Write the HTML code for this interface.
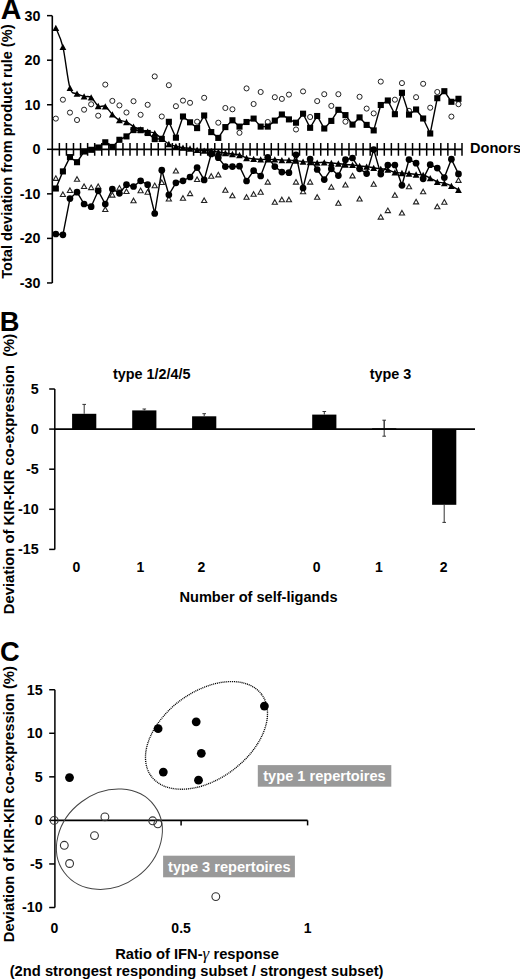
<!DOCTYPE html>
<html><head><meta charset="utf-8"><title>Figure</title>
<style>
html,body{margin:0;padding:0;background:#fff;}
body{width:520px;height:980px;overflow:hidden;}
svg{display:block;}
</style></head>
<body>
<svg width="520" height="980" viewBox="0 0 520 980">
<rect width="520" height="980" fill="#fff"/>
<text x="0.7" y="18.9" font-size="28.6" font-family="Liberation Sans, sans-serif" font-weight="bold">A</text>
<line x1="52.3" y1="15.65" x2="52.3" y2="282.95" stroke="#000" stroke-width="1.6"/>
<line x1="47" y1="282.95" x2="52.3" y2="282.95" stroke="#000" stroke-width="1.5"/>
<text x="40.4" y="287.95" font-size="14.3" text-anchor="end" font-family="Liberation Sans, sans-serif" font-weight="bold">-30</text>
<line x1="47" y1="238.40" x2="52.3" y2="238.40" stroke="#000" stroke-width="1.5"/>
<text x="40.4" y="243.40" font-size="14.3" text-anchor="end" font-family="Liberation Sans, sans-serif" font-weight="bold">-20</text>
<line x1="47" y1="193.85" x2="52.3" y2="193.85" stroke="#000" stroke-width="1.5"/>
<text x="40.4" y="198.85" font-size="14.3" text-anchor="end" font-family="Liberation Sans, sans-serif" font-weight="bold">-10</text>
<line x1="47" y1="149.30" x2="52.3" y2="149.30" stroke="#000" stroke-width="1.5"/>
<text x="40.4" y="154.30" font-size="14.3" text-anchor="end" font-family="Liberation Sans, sans-serif" font-weight="bold">0</text>
<line x1="47" y1="104.75" x2="52.3" y2="104.75" stroke="#000" stroke-width="1.5"/>
<text x="40.4" y="109.75" font-size="14.3" text-anchor="end" font-family="Liberation Sans, sans-serif" font-weight="bold">10</text>
<line x1="47" y1="60.20" x2="52.3" y2="60.20" stroke="#000" stroke-width="1.5"/>
<text x="40.4" y="65.20" font-size="14.3" text-anchor="end" font-family="Liberation Sans, sans-serif" font-weight="bold">20</text>
<line x1="47" y1="15.65" x2="52.3" y2="15.65" stroke="#000" stroke-width="1.5"/>
<text x="40.4" y="20.65" font-size="14.3" text-anchor="end" font-family="Liberation Sans, sans-serif" font-weight="bold">30</text>
<line x1="52.3" y1="149.3" x2="462.0" y2="149.3" stroke="#000" stroke-width="1.8"/>
<path d="M59.36 143V155.8 M66.43 143V155.8 M73.49 143V155.8 M80.56 143V155.8 M87.62 143V155.8 M94.68 143V155.8 M101.75 143V155.8 M108.81 143V155.8 M115.87 143V155.8 M122.94 143V155.8 M130.00 143V155.8 M137.07 143V155.8 M144.13 143V155.8 M151.19 143V155.8 M158.26 143V155.8 M165.32 143V155.8 M172.38 143V155.8 M179.45 143V155.8 M186.51 143V155.8 M193.58 143V155.8 M200.64 143V155.8 M207.70 143V155.8 M214.77 143V155.8 M221.83 143V155.8 M228.89 143V155.8 M235.96 143V155.8 M243.02 143V155.8 M250.09 143V155.8 M257.15 143V155.8 M264.21 143V155.8 M271.28 143V155.8 M278.34 143V155.8 M285.41 143V155.8 M292.47 143V155.8 M299.53 143V155.8 M306.60 143V155.8 M313.66 143V155.8 M320.72 143V155.8 M327.79 143V155.8 M334.85 143V155.8 M341.92 143V155.8 M348.98 143V155.8 M356.04 143V155.8 M363.11 143V155.8 M370.17 143V155.8 M377.23 143V155.8 M384.30 143V155.8 M391.36 143V155.8 M398.43 143V155.8 M405.49 143V155.8 M412.55 143V155.8 M419.62 143V155.8 M426.68 143V155.8 M433.74 143V155.8 M440.81 143V155.8 M447.87 143V155.8 M454.94 143V155.8 M462.00 143V155.8" stroke="#000" stroke-width="1.5"/>
<text x="470" y="153.3" font-size="14.6" font-family="Liberation Sans, sans-serif" font-weight="bold">Donors</text>
<text transform="translate(12.1 151.6) rotate(-90)" font-size="14.6" text-anchor="middle" font-family="Liberation Sans, sans-serif" font-weight="bold">Total deviation from product rule (%)</text>
<circle cx="55.83" cy="118.6" r="2.55" fill="#fff" stroke="#222" stroke-width="1"/>
<circle cx="62.90" cy="99.7" r="2.55" fill="#fff" stroke="#222" stroke-width="1"/>
<circle cx="69.96" cy="112.6" r="2.55" fill="#fff" stroke="#222" stroke-width="1"/>
<circle cx="77.02" cy="120" r="2.55" fill="#fff" stroke="#222" stroke-width="1"/>
<circle cx="84.09" cy="109.7" r="2.55" fill="#fff" stroke="#222" stroke-width="1"/>
<circle cx="91.15" cy="104.3" r="2.55" fill="#fff" stroke="#222" stroke-width="1"/>
<circle cx="98.21" cy="115.7" r="2.55" fill="#fff" stroke="#222" stroke-width="1"/>
<circle cx="105.28" cy="84.6" r="2.55" fill="#fff" stroke="#222" stroke-width="1"/>
<circle cx="112.34" cy="100.9" r="2.55" fill="#fff" stroke="#222" stroke-width="1"/>
<circle cx="119.41" cy="105.4" r="2.55" fill="#fff" stroke="#222" stroke-width="1"/>
<circle cx="126.47" cy="112.5" r="2.55" fill="#fff" stroke="#222" stroke-width="1"/>
<circle cx="133.53" cy="101.2" r="2.55" fill="#fff" stroke="#222" stroke-width="1"/>
<circle cx="140.60" cy="114.8" r="2.55" fill="#fff" stroke="#222" stroke-width="1"/>
<circle cx="147.66" cy="104.8" r="2.55" fill="#fff" stroke="#222" stroke-width="1"/>
<circle cx="154.72" cy="76.4" r="2.55" fill="#fff" stroke="#222" stroke-width="1"/>
<circle cx="161.79" cy="116.5" r="2.55" fill="#fff" stroke="#222" stroke-width="1"/>
<circle cx="168.85" cy="85.2" r="2.55" fill="#fff" stroke="#222" stroke-width="1"/>
<circle cx="175.92" cy="106.2" r="2.55" fill="#fff" stroke="#222" stroke-width="1"/>
<circle cx="182.98" cy="100.6" r="2.55" fill="#fff" stroke="#222" stroke-width="1"/>
<circle cx="190.04" cy="102.8" r="2.55" fill="#fff" stroke="#222" stroke-width="1"/>
<circle cx="197.11" cy="121.7" r="2.55" fill="#fff" stroke="#222" stroke-width="1"/>
<circle cx="204.17" cy="97.8" r="2.55" fill="#fff" stroke="#222" stroke-width="1"/>
<circle cx="218.30" cy="122.7" r="2.55" fill="#fff" stroke="#222" stroke-width="1"/>
<circle cx="225.36" cy="108" r="2.55" fill="#fff" stroke="#222" stroke-width="1"/>
<circle cx="232.43" cy="109.3" r="2.55" fill="#fff" stroke="#222" stroke-width="1"/>
<circle cx="239.49" cy="132.8" r="2.55" fill="#fff" stroke="#222" stroke-width="1"/>
<circle cx="246.55" cy="88.4" r="2.55" fill="#fff" stroke="#222" stroke-width="1"/>
<circle cx="253.62" cy="104" r="2.55" fill="#fff" stroke="#222" stroke-width="1"/>
<circle cx="260.68" cy="92" r="2.55" fill="#fff" stroke="#222" stroke-width="1"/>
<circle cx="267.75" cy="122" r="2.55" fill="#fff" stroke="#222" stroke-width="1"/>
<circle cx="274.81" cy="97.2" r="2.55" fill="#fff" stroke="#222" stroke-width="1"/>
<circle cx="281.87" cy="98.9" r="2.55" fill="#fff" stroke="#222" stroke-width="1"/>
<circle cx="288.94" cy="94.6" r="2.55" fill="#fff" stroke="#222" stroke-width="1"/>
<circle cx="296.00" cy="129.5" r="2.55" fill="#fff" stroke="#222" stroke-width="1"/>
<circle cx="303.06" cy="91.4" r="2.55" fill="#fff" stroke="#222" stroke-width="1"/>
<circle cx="310.13" cy="117" r="2.55" fill="#fff" stroke="#222" stroke-width="1"/>
<circle cx="317.19" cy="101.1" r="2.55" fill="#fff" stroke="#222" stroke-width="1"/>
<circle cx="324.26" cy="94.2" r="2.55" fill="#fff" stroke="#222" stroke-width="1"/>
<circle cx="331.32" cy="105.9" r="2.55" fill="#fff" stroke="#222" stroke-width="1"/>
<circle cx="338.38" cy="94.2" r="2.55" fill="#fff" stroke="#222" stroke-width="1"/>
<circle cx="345.45" cy="121.7" r="2.55" fill="#fff" stroke="#222" stroke-width="1"/>
<circle cx="359.57" cy="96.8" r="2.55" fill="#fff" stroke="#222" stroke-width="1"/>
<circle cx="366.64" cy="108.6" r="2.55" fill="#fff" stroke="#222" stroke-width="1"/>
<circle cx="373.70" cy="113.4" r="2.55" fill="#fff" stroke="#222" stroke-width="1"/>
<circle cx="380.77" cy="81.6" r="2.55" fill="#fff" stroke="#222" stroke-width="1"/>
<circle cx="394.89" cy="99.7" r="2.55" fill="#fff" stroke="#222" stroke-width="1"/>
<circle cx="401.96" cy="83.1" r="2.55" fill="#fff" stroke="#222" stroke-width="1"/>
<circle cx="409.02" cy="110.8" r="2.55" fill="#fff" stroke="#222" stroke-width="1"/>
<circle cx="416.09" cy="97.2" r="2.55" fill="#fff" stroke="#222" stroke-width="1"/>
<circle cx="423.15" cy="83.8" r="2.55" fill="#fff" stroke="#222" stroke-width="1"/>
<circle cx="430.21" cy="107.7" r="2.55" fill="#fff" stroke="#222" stroke-width="1"/>
<circle cx="437.28" cy="92" r="2.55" fill="#fff" stroke="#222" stroke-width="1"/>
<circle cx="451.40" cy="116.6" r="2.55" fill="#fff" stroke="#222" stroke-width="1"/>
<circle cx="458.47" cy="104.2" r="2.55" fill="#fff" stroke="#222" stroke-width="1"/>
<path d="M55.83 175.80L58.43 180.40L53.23 180.40Z" fill="#fff" stroke="#222" stroke-width="1.1"/>
<path d="M62.90 191.90L65.50 196.50L60.30 196.50Z" fill="#fff" stroke="#222" stroke-width="1.1"/>
<path d="M69.96 187.90L72.56 192.50L67.36 192.50Z" fill="#fff" stroke="#222" stroke-width="1.1"/>
<path d="M77.02 176.70L79.62 181.30L74.42 181.30Z" fill="#fff" stroke="#222" stroke-width="1.1"/>
<path d="M84.09 183.90L86.69 188.50L81.49 188.50Z" fill="#fff" stroke="#222" stroke-width="1.1"/>
<path d="M91.15 185.00L93.75 189.60L88.55 189.60Z" fill="#fff" stroke="#222" stroke-width="1.1"/>
<path d="M98.21 183.90L100.81 188.50L95.61 188.50Z" fill="#fff" stroke="#222" stroke-width="1.1"/>
<path d="M105.28 206.90L107.88 211.50L102.68 211.50Z" fill="#fff" stroke="#222" stroke-width="1.1"/>
<path d="M112.34 192.50L114.94 197.10L109.74 197.10Z" fill="#fff" stroke="#222" stroke-width="1.1"/>
<path d="M119.41 185.50L122.01 190.10L116.81 190.10Z" fill="#fff" stroke="#222" stroke-width="1.1"/>
<path d="M126.47 188.90L129.07 193.50L123.87 193.50Z" fill="#fff" stroke="#222" stroke-width="1.1"/>
<path d="M133.53 198.20L136.13 202.80L130.93 202.80Z" fill="#fff" stroke="#222" stroke-width="1.1"/>
<path d="M140.60 188.10L143.20 192.70L138.00 192.70Z" fill="#fff" stroke="#222" stroke-width="1.1"/>
<path d="M147.66 189.60L150.26 194.20L145.06 194.20Z" fill="#fff" stroke="#222" stroke-width="1.1"/>
<path d="M154.72 183.10L157.32 187.70L152.12 187.70Z" fill="#fff" stroke="#222" stroke-width="1.1"/>
<path d="M161.79 179.90L164.39 184.50L159.19 184.50Z" fill="#fff" stroke="#222" stroke-width="1.1"/>
<path d="M168.85 196.40L171.45 201.00L166.25 201.00Z" fill="#fff" stroke="#222" stroke-width="1.1"/>
<path d="M175.92 168.40L178.52 173.00L173.32 173.00Z" fill="#fff" stroke="#222" stroke-width="1.1"/>
<path d="M182.98 195.70L185.58 200.30L180.38 200.30Z" fill="#fff" stroke="#222" stroke-width="1.1"/>
<path d="M190.04 191.00L192.64 195.60L187.44 195.60Z" fill="#fff" stroke="#222" stroke-width="1.1"/>
<path d="M197.11 176.90L199.71 181.50L194.51 181.50Z" fill="#fff" stroke="#222" stroke-width="1.1"/>
<path d="M204.17 197.90L206.77 202.50L201.57 202.50Z" fill="#fff" stroke="#222" stroke-width="1.1"/>
<path d="M211.24 173.70L213.84 178.30L208.64 178.30Z" fill="#fff" stroke="#222" stroke-width="1.1"/>
<path d="M218.30 172.30L220.90 176.90L215.70 176.90Z" fill="#fff" stroke="#222" stroke-width="1.1"/>
<path d="M225.36 187.70L227.96 192.30L222.76 192.30Z" fill="#fff" stroke="#222" stroke-width="1.1"/>
<path d="M232.43 193.20L235.03 197.80L229.83 197.80Z" fill="#fff" stroke="#222" stroke-width="1.1"/>
<path d="M246.55 194.70L249.15 199.30L243.95 199.30Z" fill="#fff" stroke="#222" stroke-width="1.1"/>
<path d="M253.62 191.70L256.22 196.30L251.02 196.30Z" fill="#fff" stroke="#222" stroke-width="1.1"/>
<path d="M260.68 189.60L263.28 194.20L258.08 194.20Z" fill="#fff" stroke="#222" stroke-width="1.1"/>
<path d="M267.75 179.50L270.35 184.10L265.15 184.10Z" fill="#fff" stroke="#222" stroke-width="1.1"/>
<path d="M274.81 199.70L277.41 204.30L272.21 204.30Z" fill="#fff" stroke="#222" stroke-width="1.1"/>
<path d="M281.87 197.20L284.47 201.80L279.27 201.80Z" fill="#fff" stroke="#222" stroke-width="1.1"/>
<path d="M288.94 197.20L291.54 201.80L286.34 201.80Z" fill="#fff" stroke="#222" stroke-width="1.1"/>
<path d="M296.00 179.50L298.60 184.10L293.40 184.10Z" fill="#fff" stroke="#222" stroke-width="1.1"/>
<path d="M303.06 189.10L305.66 193.70L300.46 193.70Z" fill="#fff" stroke="#222" stroke-width="1.1"/>
<path d="M310.13 179.50L312.73 184.10L307.53 184.10Z" fill="#fff" stroke="#222" stroke-width="1.1"/>
<path d="M317.19 194.70L319.79 199.30L314.59 199.30Z" fill="#fff" stroke="#222" stroke-width="1.1"/>
<path d="M331.32 184.50L333.92 189.10L328.72 189.10Z" fill="#fff" stroke="#222" stroke-width="1.1"/>
<path d="M338.38 200.70L340.98 205.30L335.78 205.30Z" fill="#fff" stroke="#222" stroke-width="1.1"/>
<path d="M345.45 182.40L348.05 187.00L342.85 187.00Z" fill="#fff" stroke="#222" stroke-width="1.1"/>
<path d="M352.51 173.30L355.11 177.90L349.91 177.90Z" fill="#fff" stroke="#222" stroke-width="1.1"/>
<path d="M359.57 196.40L362.18 201.00L356.97 201.00Z" fill="#fff" stroke="#222" stroke-width="1.1"/>
<path d="M373.70 181.70L376.30 186.30L371.10 186.30Z" fill="#fff" stroke="#222" stroke-width="1.1"/>
<path d="M380.77 214.50L383.37 219.10L378.17 219.10Z" fill="#fff" stroke="#222" stroke-width="1.1"/>
<path d="M387.83 208.00L390.43 212.60L385.23 212.60Z" fill="#fff" stroke="#222" stroke-width="1.1"/>
<path d="M394.89 192.70L397.49 197.30L392.29 197.30Z" fill="#fff" stroke="#222" stroke-width="1.1"/>
<path d="M401.96 210.40L404.56 215.00L399.36 215.00Z" fill="#fff" stroke="#222" stroke-width="1.1"/>
<path d="M409.02 184.20L411.62 188.80L406.42 188.80Z" fill="#fff" stroke="#222" stroke-width="1.1"/>
<path d="M416.09 199.30L418.69 203.90L413.49 203.90Z" fill="#fff" stroke="#222" stroke-width="1.1"/>
<path d="M423.15 189.20L425.75 193.80L420.55 193.80Z" fill="#fff" stroke="#222" stroke-width="1.1"/>
<path d="M437.28 204.20L439.88 208.80L434.68 208.80Z" fill="#fff" stroke="#222" stroke-width="1.1"/>
<path d="M444.34 199.60L446.94 204.20L441.74 204.20Z" fill="#fff" stroke="#222" stroke-width="1.1"/>
<path d="M458.47 177.80L461.07 182.40L455.87 182.40Z" fill="#fff" stroke="#222" stroke-width="1.1"/>
<polyline points="55.83,234 62.90,234.8 69.96,198.6 77.02,192.2 84.09,204 91.15,206.7 98.21,190.8 105.28,204 112.34,189 119.41,193.3 126.47,184.7 133.53,186.5 140.60,180.8 147.66,184.7 154.72,213.5 161.79,170.2 168.85,194.8 175.92,182.8 182.98,180.8 190.04,177 197.11,167.6 204.17,179.9 211.24,153.9 218.30,157.7 225.36,166.6 232.43,166.6 239.49,166.2 246.55,181 253.62,170.7 260.68,176 267.75,157.3 274.81,166.6 281.87,172.1 288.94,172.7 296.00,154.8 303.06,188 310.13,159.1 317.19,169.5 324.26,179.6 331.32,168.8 338.38,175.6 345.45,159.7 352.51,158 359.57,168.8 366.64,173.6 373.70,149.6 380.77,174.1 387.83,165.1 394.89,165 401.96,185.3 409.02,159.6 416.09,163.2 423.15,178.8 430.21,164.7 437.28,168.1 444.34,177.6 451.40,159.2 458.47,173.9" fill="none" stroke="#000" stroke-width="1.4"/>
<polyline points="55.83,188.5 62.90,171.4 69.96,157.1 77.02,162.2 84.09,151.5 91.15,149.8 98.21,147.5 105.28,142.3 112.34,146.9 119.41,139.8 126.47,136.4 133.53,130.1 140.60,130.2 147.66,133 154.72,139.1 161.79,138.8 168.85,121.8 175.92,137.7 182.98,116.5 190.04,122.3 197.11,128.1 204.17,115.5 211.24,132.1 218.30,137.9 225.36,127.1 232.43,120.3 239.49,126.6 246.55,122 253.62,118.6 260.68,126.6 267.75,126.6 274.81,120.6 281.87,114.5 288.94,119.4 296.00,122.7 303.06,113.7 310.13,127.8 317.19,116 324.26,128.5 331.32,120.9 338.38,109.8 345.45,115.1 352.51,124.6 359.57,117.4 366.64,124.9 373.70,130.4 380.77,105 387.83,100.5 394.89,114.2 401.96,92.8 409.02,114.6 416.09,109.5 423.15,118.5 430.21,133.5 437.28,98.2 444.34,91.2 451.40,101.8 458.47,98.8" fill="none" stroke="#000" stroke-width="1.4"/>
<path d="M55.83 27.90C57.01 31.07 60.54 36.90 62.90 46.90C65.25 56.90 67.60 80.12 69.96 87.90C72.31 95.68 74.67 92.18 77.02 93.60C79.38 95.02 81.73 95.77 84.09 96.40C86.44 97.03 88.80 95.80 91.15 97.40C93.51 99.00 95.86 104.50 98.21 106.00C100.57 107.50 102.92 105.00 105.28 106.40C107.63 107.80 109.99 112.12 112.34 114.40C114.70 116.68 117.05 118.83 119.41 120.10C121.76 121.37 124.12 120.92 126.47 122.00C128.82 123.08 131.18 125.35 133.53 126.60C135.89 127.85 138.24 128.65 140.60 129.50C142.95 130.35 145.31 131.10 147.66 131.70C150.02 132.30 152.37 131.92 154.72 133.10C157.08 134.28 159.43 136.98 161.79 138.80C164.14 140.62 166.50 142.77 168.85 144.00C171.21 145.23 173.56 145.60 175.92 146.20C178.27 146.80 180.63 147.22 182.98 147.60C185.33 147.98 187.69 148.13 190.04 148.50C192.40 148.87 194.75 149.45 197.11 149.80C199.46 150.15 201.82 150.40 204.17 150.60C206.53 150.80 208.88 150.77 211.24 151.00C213.59 151.23 215.94 151.67 218.30 152.00C220.65 152.33 223.01 152.67 225.36 153.00C227.72 153.33 230.07 153.67 232.43 154.00C234.78 154.33 237.14 154.33 239.49 155.00C241.85 155.67 244.20 157.37 246.55 158.00C248.91 158.63 251.26 158.57 253.62 158.80C255.97 159.03 258.33 159.30 260.68 159.40C263.04 159.50 265.39 159.40 267.75 159.40C270.10 159.40 272.45 159.28 274.81 159.40C277.16 159.52 279.52 159.98 281.87 160.10C284.23 160.22 286.58 160.02 288.94 160.10C291.29 160.18 293.65 160.35 296.00 160.60C298.36 160.85 300.71 161.37 303.06 161.60C305.42 161.83 307.77 161.83 310.13 162.00C312.48 162.17 314.84 162.55 317.19 162.60C319.55 162.65 321.90 162.23 324.26 162.30C326.61 162.37 328.97 162.80 331.32 163.00C333.67 163.20 336.03 163.25 338.38 163.50C340.74 163.75 343.09 164.27 345.45 164.50C347.80 164.73 350.16 164.67 352.51 164.90C354.87 165.13 357.22 165.62 359.57 165.90C361.93 166.18 364.28 166.28 366.64 166.60C368.99 166.92 371.35 167.43 373.70 167.80C376.06 168.17 378.41 168.48 380.77 168.80C383.12 169.12 385.48 169.10 387.83 169.70C390.18 170.30 392.54 171.85 394.89 172.40C397.25 172.95 399.60 172.82 401.96 173.00C404.31 173.18 406.67 173.25 409.02 173.50C411.38 173.75 413.73 174.25 416.09 174.50C418.44 174.75 420.79 174.40 423.15 175.00C425.50 175.60 427.86 176.95 430.21 178.10C432.57 179.25 434.92 181.05 437.28 181.90C439.63 182.75 441.99 182.55 444.34 183.20C446.70 183.85 449.05 184.68 451.40 185.80C453.76 186.92 457.29 189.22 458.47 189.90" fill="none" stroke="#000" stroke-width="1.4"/>
<circle cx="55.83" cy="234" r="3.35" fill="#000"/>
<circle cx="62.90" cy="234.8" r="3.35" fill="#000"/>
<circle cx="69.96" cy="198.6" r="3.35" fill="#000"/>
<circle cx="77.02" cy="192.2" r="3.35" fill="#000"/>
<circle cx="84.09" cy="204" r="3.35" fill="#000"/>
<circle cx="91.15" cy="206.7" r="3.35" fill="#000"/>
<circle cx="98.21" cy="190.8" r="3.35" fill="#000"/>
<circle cx="105.28" cy="204" r="3.35" fill="#000"/>
<circle cx="112.34" cy="189" r="3.35" fill="#000"/>
<circle cx="119.41" cy="193.3" r="3.35" fill="#000"/>
<circle cx="126.47" cy="184.7" r="3.35" fill="#000"/>
<circle cx="133.53" cy="186.5" r="3.35" fill="#000"/>
<circle cx="140.60" cy="180.8" r="3.35" fill="#000"/>
<circle cx="147.66" cy="184.7" r="3.35" fill="#000"/>
<circle cx="154.72" cy="213.5" r="3.35" fill="#000"/>
<circle cx="161.79" cy="170.2" r="3.35" fill="#000"/>
<circle cx="168.85" cy="194.8" r="3.35" fill="#000"/>
<circle cx="175.92" cy="182.8" r="3.35" fill="#000"/>
<circle cx="182.98" cy="180.8" r="3.35" fill="#000"/>
<circle cx="190.04" cy="177" r="3.35" fill="#000"/>
<circle cx="197.11" cy="167.6" r="3.35" fill="#000"/>
<circle cx="204.17" cy="179.9" r="3.35" fill="#000"/>
<circle cx="211.24" cy="153.9" r="3.35" fill="#000"/>
<circle cx="218.30" cy="157.7" r="3.35" fill="#000"/>
<circle cx="225.36" cy="166.6" r="3.35" fill="#000"/>
<circle cx="232.43" cy="166.6" r="3.35" fill="#000"/>
<circle cx="239.49" cy="166.2" r="3.35" fill="#000"/>
<circle cx="246.55" cy="181" r="3.35" fill="#000"/>
<circle cx="253.62" cy="170.7" r="3.35" fill="#000"/>
<circle cx="260.68" cy="176" r="3.35" fill="#000"/>
<circle cx="267.75" cy="157.3" r="3.35" fill="#000"/>
<circle cx="274.81" cy="166.6" r="3.35" fill="#000"/>
<circle cx="281.87" cy="172.1" r="3.35" fill="#000"/>
<circle cx="288.94" cy="172.7" r="3.35" fill="#000"/>
<circle cx="296.00" cy="154.8" r="3.35" fill="#000"/>
<circle cx="303.06" cy="188" r="3.35" fill="#000"/>
<circle cx="310.13" cy="159.1" r="3.35" fill="#000"/>
<circle cx="317.19" cy="169.5" r="3.35" fill="#000"/>
<circle cx="324.26" cy="179.6" r="3.35" fill="#000"/>
<circle cx="331.32" cy="168.8" r="3.35" fill="#000"/>
<circle cx="338.38" cy="175.6" r="3.35" fill="#000"/>
<circle cx="345.45" cy="159.7" r="3.35" fill="#000"/>
<circle cx="352.51" cy="158" r="3.35" fill="#000"/>
<circle cx="359.57" cy="168.8" r="3.35" fill="#000"/>
<circle cx="366.64" cy="173.6" r="3.35" fill="#000"/>
<circle cx="373.70" cy="149.6" r="3.35" fill="#000"/>
<circle cx="380.77" cy="174.1" r="3.35" fill="#000"/>
<circle cx="387.83" cy="165.1" r="3.35" fill="#000"/>
<circle cx="394.89" cy="165" r="3.35" fill="#000"/>
<circle cx="401.96" cy="185.3" r="3.35" fill="#000"/>
<circle cx="409.02" cy="159.6" r="3.35" fill="#000"/>
<circle cx="416.09" cy="163.2" r="3.35" fill="#000"/>
<circle cx="423.15" cy="178.8" r="3.35" fill="#000"/>
<circle cx="430.21" cy="164.7" r="3.35" fill="#000"/>
<circle cx="437.28" cy="168.1" r="3.35" fill="#000"/>
<circle cx="444.34" cy="177.6" r="3.35" fill="#000"/>
<circle cx="451.40" cy="159.2" r="3.35" fill="#000"/>
<circle cx="458.47" cy="173.9" r="3.35" fill="#000"/>
<rect x="52.78" y="185.45" width="6.1" height="6.1" fill="#000"/>
<rect x="59.85" y="168.35" width="6.1" height="6.1" fill="#000"/>
<rect x="66.91" y="154.05" width="6.1" height="6.1" fill="#000"/>
<rect x="73.97" y="159.15" width="6.1" height="6.1" fill="#000"/>
<rect x="81.04" y="148.45" width="6.1" height="6.1" fill="#000"/>
<rect x="88.10" y="146.75" width="6.1" height="6.1" fill="#000"/>
<rect x="95.16" y="144.45" width="6.1" height="6.1" fill="#000"/>
<rect x="102.23" y="139.25" width="6.1" height="6.1" fill="#000"/>
<rect x="109.29" y="143.85" width="6.1" height="6.1" fill="#000"/>
<rect x="116.36" y="136.75" width="6.1" height="6.1" fill="#000"/>
<rect x="123.42" y="133.35" width="6.1" height="6.1" fill="#000"/>
<rect x="130.48" y="127.05" width="6.1" height="6.1" fill="#000"/>
<rect x="137.55" y="127.15" width="6.1" height="6.1" fill="#000"/>
<rect x="144.61" y="129.95" width="6.1" height="6.1" fill="#000"/>
<rect x="151.67" y="136.05" width="6.1" height="6.1" fill="#000"/>
<rect x="158.74" y="135.75" width="6.1" height="6.1" fill="#000"/>
<rect x="165.80" y="118.75" width="6.1" height="6.1" fill="#000"/>
<rect x="172.87" y="134.65" width="6.1" height="6.1" fill="#000"/>
<rect x="179.93" y="113.45" width="6.1" height="6.1" fill="#000"/>
<rect x="186.99" y="119.25" width="6.1" height="6.1" fill="#000"/>
<rect x="194.06" y="125.05" width="6.1" height="6.1" fill="#000"/>
<rect x="201.12" y="112.45" width="6.1" height="6.1" fill="#000"/>
<rect x="208.19" y="129.05" width="6.1" height="6.1" fill="#000"/>
<rect x="215.25" y="134.85" width="6.1" height="6.1" fill="#000"/>
<rect x="222.31" y="124.05" width="6.1" height="6.1" fill="#000"/>
<rect x="229.38" y="117.25" width="6.1" height="6.1" fill="#000"/>
<rect x="236.44" y="123.55" width="6.1" height="6.1" fill="#000"/>
<rect x="243.50" y="118.95" width="6.1" height="6.1" fill="#000"/>
<rect x="250.57" y="115.55" width="6.1" height="6.1" fill="#000"/>
<rect x="257.63" y="123.55" width="6.1" height="6.1" fill="#000"/>
<rect x="264.70" y="123.55" width="6.1" height="6.1" fill="#000"/>
<rect x="271.76" y="117.55" width="6.1" height="6.1" fill="#000"/>
<rect x="278.82" y="111.45" width="6.1" height="6.1" fill="#000"/>
<rect x="285.89" y="116.35" width="6.1" height="6.1" fill="#000"/>
<rect x="292.95" y="119.65" width="6.1" height="6.1" fill="#000"/>
<rect x="300.01" y="110.65" width="6.1" height="6.1" fill="#000"/>
<rect x="307.08" y="124.75" width="6.1" height="6.1" fill="#000"/>
<rect x="314.14" y="112.95" width="6.1" height="6.1" fill="#000"/>
<rect x="321.21" y="125.45" width="6.1" height="6.1" fill="#000"/>
<rect x="328.27" y="117.85" width="6.1" height="6.1" fill="#000"/>
<rect x="335.33" y="106.75" width="6.1" height="6.1" fill="#000"/>
<rect x="342.40" y="112.05" width="6.1" height="6.1" fill="#000"/>
<rect x="349.46" y="121.55" width="6.1" height="6.1" fill="#000"/>
<rect x="356.52" y="114.35" width="6.1" height="6.1" fill="#000"/>
<rect x="363.59" y="121.85" width="6.1" height="6.1" fill="#000"/>
<rect x="370.65" y="127.35" width="6.1" height="6.1" fill="#000"/>
<rect x="377.72" y="101.95" width="6.1" height="6.1" fill="#000"/>
<rect x="384.78" y="97.45" width="6.1" height="6.1" fill="#000"/>
<rect x="391.84" y="111.15" width="6.1" height="6.1" fill="#000"/>
<rect x="398.91" y="89.75" width="6.1" height="6.1" fill="#000"/>
<rect x="405.97" y="111.55" width="6.1" height="6.1" fill="#000"/>
<rect x="413.04" y="106.45" width="6.1" height="6.1" fill="#000"/>
<rect x="420.10" y="115.45" width="6.1" height="6.1" fill="#000"/>
<rect x="427.16" y="130.45" width="6.1" height="6.1" fill="#000"/>
<rect x="434.23" y="95.15" width="6.1" height="6.1" fill="#000"/>
<rect x="441.29" y="88.15" width="6.1" height="6.1" fill="#000"/>
<rect x="448.35" y="98.75" width="6.1" height="6.1" fill="#000"/>
<rect x="455.42" y="95.75" width="6.1" height="6.1" fill="#000"/>
<path d="M55.83 24.75L59.23 31.05L52.43 31.05Z" fill="#000"/>
<path d="M62.90 43.75L66.30 50.05L59.50 50.05Z" fill="#000"/>
<path d="M69.96 84.75L73.36 91.05L66.56 91.05Z" fill="#000"/>
<path d="M77.02 90.45L80.42 96.75L73.62 96.75Z" fill="#000"/>
<path d="M84.09 93.25L87.49 99.55L80.69 99.55Z" fill="#000"/>
<path d="M91.15 94.25L94.55 100.55L87.75 100.55Z" fill="#000"/>
<path d="M98.21 102.85L101.61 109.15L94.81 109.15Z" fill="#000"/>
<path d="M105.28 103.25L108.68 109.55L101.88 109.55Z" fill="#000"/>
<path d="M112.34 111.25L115.74 117.55L108.94 117.55Z" fill="#000"/>
<path d="M119.41 116.95L122.81 123.25L116.01 123.25Z" fill="#000"/>
<path d="M126.47 118.85L129.87 125.15L123.07 125.15Z" fill="#000"/>
<path d="M133.53 123.45L136.93 129.75L130.13 129.75Z" fill="#000"/>
<path d="M140.60 126.35L144.00 132.65L137.20 132.65Z" fill="#000"/>
<path d="M147.66 128.55L151.06 134.85L144.26 134.85Z" fill="#000"/>
<path d="M154.72 129.95L158.12 136.25L151.32 136.25Z" fill="#000"/>
<path d="M161.79 135.65L165.19 141.95L158.39 141.95Z" fill="#000"/>
<path d="M168.85 140.85L172.25 147.15L165.45 147.15Z" fill="#000"/>
<path d="M175.92 143.05L179.32 149.35L172.52 149.35Z" fill="#000"/>
<path d="M182.98 144.45L186.38 150.75L179.58 150.75Z" fill="#000"/>
<path d="M190.04 145.35L193.44 151.65L186.64 151.65Z" fill="#000"/>
<path d="M197.11 146.65L200.51 152.95L193.71 152.95Z" fill="#000"/>
<path d="M204.17 147.45L207.57 153.75L200.77 153.75Z" fill="#000"/>
<path d="M211.24 147.85L214.64 154.15L207.84 154.15Z" fill="#000"/>
<path d="M218.30 148.85L221.70 155.15L214.90 155.15Z" fill="#000"/>
<path d="M225.36 149.85L228.76 156.15L221.96 156.15Z" fill="#000"/>
<path d="M232.43 150.85L235.83 157.15L229.03 157.15Z" fill="#000"/>
<path d="M239.49 151.85L242.89 158.15L236.09 158.15Z" fill="#000"/>
<path d="M246.55 154.85L249.95 161.15L243.15 161.15Z" fill="#000"/>
<path d="M253.62 155.65L257.02 161.95L250.22 161.95Z" fill="#000"/>
<path d="M260.68 156.25L264.08 162.55L257.28 162.55Z" fill="#000"/>
<path d="M267.75 156.25L271.15 162.55L264.35 162.55Z" fill="#000"/>
<path d="M274.81 156.25L278.21 162.55L271.41 162.55Z" fill="#000"/>
<path d="M281.87 156.95L285.27 163.25L278.47 163.25Z" fill="#000"/>
<path d="M288.94 156.95L292.34 163.25L285.54 163.25Z" fill="#000"/>
<path d="M296.00 157.45L299.40 163.75L292.60 163.75Z" fill="#000"/>
<path d="M303.06 158.45L306.46 164.75L299.66 164.75Z" fill="#000"/>
<path d="M310.13 158.85L313.53 165.15L306.73 165.15Z" fill="#000"/>
<path d="M317.19 159.45L320.59 165.75L313.79 165.75Z" fill="#000"/>
<path d="M324.26 159.15L327.66 165.45L320.86 165.45Z" fill="#000"/>
<path d="M331.32 159.85L334.72 166.15L327.92 166.15Z" fill="#000"/>
<path d="M338.38 160.35L341.78 166.65L334.98 166.65Z" fill="#000"/>
<path d="M345.45 161.35L348.85 167.65L342.05 167.65Z" fill="#000"/>
<path d="M352.51 161.75L355.91 168.05L349.11 168.05Z" fill="#000"/>
<path d="M359.57 162.75L362.97 169.05L356.18 169.05Z" fill="#000"/>
<path d="M366.64 163.45L370.04 169.75L363.24 169.75Z" fill="#000"/>
<path d="M373.70 164.65L377.10 170.95L370.30 170.95Z" fill="#000"/>
<path d="M380.77 165.65L384.17 171.95L377.37 171.95Z" fill="#000"/>
<path d="M387.83 166.55L391.23 172.85L384.43 172.85Z" fill="#000"/>
<path d="M394.89 169.25L398.29 175.55L391.49 175.55Z" fill="#000"/>
<path d="M401.96 169.85L405.36 176.15L398.56 176.15Z" fill="#000"/>
<path d="M409.02 170.35L412.42 176.65L405.62 176.65Z" fill="#000"/>
<path d="M416.09 171.35L419.49 177.65L412.69 177.65Z" fill="#000"/>
<path d="M423.15 171.85L426.55 178.15L419.75 178.15Z" fill="#000"/>
<path d="M430.21 174.95L433.61 181.25L426.81 181.25Z" fill="#000"/>
<path d="M437.28 178.75L440.68 185.05L433.88 185.05Z" fill="#000"/>
<path d="M444.34 180.05L447.74 186.35L440.94 186.35Z" fill="#000"/>
<path d="M451.40 182.65L454.80 188.95L448.00 188.95Z" fill="#000"/>
<path d="M458.47 186.75L461.87 193.05L455.07 193.05Z" fill="#000"/>
<text x="-0.2" y="330.8" font-size="27.3" font-family="Liberation Sans, sans-serif" font-weight="bold">B</text>
<line x1="54.8" y1="389.00" x2="54.8" y2="549.40" stroke="#000" stroke-width="1.5"/>
<line x1="49.2" y1="389.00" x2="54.8" y2="389.00" stroke="#000" stroke-width="1.5"/>
<text x="38.6" y="393.90" font-size="14.3" text-anchor="end" font-family="Liberation Sans, sans-serif" font-weight="bold">5</text>
<line x1="49.2" y1="429.10" x2="54.8" y2="429.10" stroke="#000" stroke-width="1.5"/>
<text x="38.6" y="434.00" font-size="14.3" text-anchor="end" font-family="Liberation Sans, sans-serif" font-weight="bold">0</text>
<line x1="49.2" y1="469.20" x2="54.8" y2="469.20" stroke="#000" stroke-width="1.5"/>
<text x="38.6" y="474.10" font-size="14.3" text-anchor="end" font-family="Liberation Sans, sans-serif" font-weight="bold">-5</text>
<line x1="49.2" y1="509.30" x2="54.8" y2="509.30" stroke="#000" stroke-width="1.5"/>
<text x="38.6" y="514.20" font-size="14.3" text-anchor="end" font-family="Liberation Sans, sans-serif" font-weight="bold">-10</text>
<line x1="49.2" y1="549.40" x2="54.8" y2="549.40" stroke="#000" stroke-width="1.5"/>
<text x="38.6" y="554.30" font-size="14.3" text-anchor="end" font-family="Liberation Sans, sans-serif" font-weight="bold">-15</text>
<rect x="72.10" y="413.8" width="24.2" height="15.30" fill="#000"/>
<rect x="132.20" y="410.4" width="24.2" height="18.70" fill="#000"/>
<rect x="192.10" y="416.3" width="24.2" height="12.80" fill="#000"/>
<rect x="312.20" y="414.6" width="24.2" height="14.50" fill="#000"/>
<rect x="372.10" y="428.3" width="24.2" height="0.80" fill="#000"/>
<rect x="432.10" y="429.1" width="24.2" height="75.70" fill="#000"/>
<line x1="84.2" y1="413.8" x2="84.2" y2="404.4" stroke="#333" stroke-width="1"/>
<line x1="82.4" y1="404.4" x2="86.0" y2="404.4" stroke="#333" stroke-width="1"/>
<line x1="144.3" y1="410.4" x2="144.3" y2="409.0" stroke="#333" stroke-width="1"/>
<line x1="142.5" y1="409.0" x2="146.10000000000002" y2="409.0" stroke="#333" stroke-width="1"/>
<line x1="204.2" y1="416.3" x2="204.2" y2="413.7" stroke="#333" stroke-width="1"/>
<line x1="202.39999999999998" y1="413.7" x2="206.0" y2="413.7" stroke="#333" stroke-width="1"/>
<line x1="324.3" y1="414.6" x2="324.3" y2="411.5" stroke="#333" stroke-width="1"/>
<line x1="322.5" y1="411.5" x2="326.1" y2="411.5" stroke="#333" stroke-width="1"/>
<line x1="384.2" y1="428.3" x2="384.2" y2="420.2" stroke="#333" stroke-width="1"/>
<line x1="382.4" y1="420.2" x2="386.0" y2="420.2" stroke="#333" stroke-width="1"/>
<line x1="444.2" y1="504.8" x2="444.2" y2="522.4" stroke="#333" stroke-width="1"/>
<line x1="442.4" y1="522.4" x2="446.0" y2="522.4" stroke="#333" stroke-width="1"/>
<line x1="384.2" y1="420.2" x2="384.2" y2="436.2" stroke="#333" stroke-width="1"/>
<line x1="382.4" y1="436.2" x2="386" y2="436.2" stroke="#333" stroke-width="1"/>
<line x1="54.8" y1="429.1" x2="475" y2="429.1" stroke="#000" stroke-width="1.6"/>
<text x="151.8" y="378.5" font-size="14.4" text-anchor="middle" font-family="Liberation Sans, sans-serif" font-weight="bold">type 1/2/4/5</text>
<text x="390.5" y="378.5" font-size="14.4" text-anchor="middle" font-family="Liberation Sans, sans-serif" font-weight="bold">type 3</text>
<text x="76.5" y="572" font-size="14" text-anchor="middle" font-family="Liberation Sans, sans-serif" font-weight="bold">0</text>
<text x="140.5" y="572" font-size="14" text-anchor="middle" font-family="Liberation Sans, sans-serif" font-weight="bold">1</text>
<text x="201.4" y="572" font-size="14" text-anchor="middle" font-family="Liberation Sans, sans-serif" font-weight="bold">2</text>
<text x="316.7" y="572" font-size="14" text-anchor="middle" font-family="Liberation Sans, sans-serif" font-weight="bold">0</text>
<text x="379" y="572" font-size="14" text-anchor="middle" font-family="Liberation Sans, sans-serif" font-weight="bold">1</text>
<text x="443.7" y="572" font-size="14" text-anchor="middle" font-family="Liberation Sans, sans-serif" font-weight="bold">2</text>
<text x="258.5" y="601.6" font-size="14.6" text-anchor="middle" font-family="Liberation Sans, sans-serif" font-weight="bold">Number of self-ligands</text>
<text transform="translate(14.2 614.2) rotate(-90)" font-size="14.8" xml:space="preserve" font-family="Liberation Sans, sans-serif" font-weight="bold">Deviation of KIR-KIR co-expression  (%)</text>
<text x="-0.1" y="661" font-size="27.3" font-family="Liberation Sans, sans-serif" font-weight="bold">C</text>
<line x1="54.9" y1="689.72" x2="54.9" y2="907.52" stroke="#000" stroke-width="1.5"/>
<line x1="49.2" y1="689.72" x2="54.9" y2="689.72" stroke="#000" stroke-width="1.5"/>
<text x="42.6" y="694.62" font-size="14.3" text-anchor="end" font-family="Liberation Sans, sans-serif" font-weight="bold">15</text>
<line x1="49.2" y1="733.28" x2="54.9" y2="733.28" stroke="#000" stroke-width="1.5"/>
<text x="42.6" y="738.18" font-size="14.3" text-anchor="end" font-family="Liberation Sans, sans-serif" font-weight="bold">10</text>
<line x1="49.2" y1="776.84" x2="54.9" y2="776.84" stroke="#000" stroke-width="1.5"/>
<text x="42.6" y="781.74" font-size="14.3" text-anchor="end" font-family="Liberation Sans, sans-serif" font-weight="bold">5</text>
<line x1="49.2" y1="820.40" x2="54.9" y2="820.40" stroke="#000" stroke-width="1.5"/>
<text x="42.6" y="825.30" font-size="14.3" text-anchor="end" font-family="Liberation Sans, sans-serif" font-weight="bold">0</text>
<line x1="49.2" y1="863.96" x2="54.9" y2="863.96" stroke="#000" stroke-width="1.5"/>
<text x="42.6" y="868.86" font-size="14.3" text-anchor="end" font-family="Liberation Sans, sans-serif" font-weight="bold">-5</text>
<line x1="49.2" y1="907.52" x2="54.9" y2="907.52" stroke="#000" stroke-width="1.5"/>
<text x="42.6" y="912.42" font-size="14.3" text-anchor="end" font-family="Liberation Sans, sans-serif" font-weight="bold">-10</text>
<line x1="54.9" y1="820.4" x2="307.6" y2="820.4" stroke="#000" stroke-width="1.6"/>
<line x1="181.1" y1="820.4" x2="181.1" y2="825.4" stroke="#000" stroke-width="1.5"/>
<line x1="307.6" y1="820.4" x2="307.6" y2="825.4" stroke="#000" stroke-width="1.5"/>
<text x="54.5" y="933.3" font-size="14" text-anchor="middle" font-family="Liberation Sans, sans-serif" font-weight="bold">0</text>
<text x="181.1" y="933.3" font-size="14" text-anchor="middle" font-family="Liberation Sans, sans-serif" font-weight="bold">0.5</text>
<text x="307.6" y="933.3" font-size="14" text-anchor="middle" font-family="Liberation Sans, sans-serif" font-weight="bold">1</text>
<ellipse cx="109.4" cy="839.2" rx="56.1" ry="46.6" transform="rotate(-36.5 109.4 839.2)" fill="none" stroke="#444" stroke-width="1"/>
<ellipse cx="206.5" cy="735.4" rx="68.7" ry="43.6" transform="rotate(-36.5 206.5 735.4)" fill="none" stroke="#000" stroke-width="1.35" stroke-dasharray="1.05 0.85"/>
<circle cx="69.5" cy="777.6" r="4.4" fill="#000"/>
<circle cx="158.1" cy="728.7" r="4.4" fill="#000"/>
<circle cx="196.2" cy="721.8" r="4.4" fill="#000"/>
<circle cx="264.4" cy="706.1" r="4.4" fill="#000"/>
<circle cx="201.3" cy="753.3" r="4.4" fill="#000"/>
<circle cx="163.3" cy="772.1" r="4.4" fill="#000"/>
<circle cx="198.5" cy="780.2" r="4.4" fill="#000"/>
<circle cx="54.2" cy="820.4" r="3.9" fill="none" stroke="#333" stroke-width="1.1"/>
<circle cx="104.9" cy="816.9" r="3.9" fill="none" stroke="#333" stroke-width="1.1"/>
<circle cx="152.7" cy="820.8" r="3.9" fill="none" stroke="#333" stroke-width="1.1"/>
<circle cx="157.8" cy="823.8" r="3.9" fill="none" stroke="#333" stroke-width="1.1"/>
<circle cx="94.5" cy="835.6" r="3.9" fill="none" stroke="#333" stroke-width="1.1"/>
<circle cx="64.3" cy="845.3" r="3.9" fill="none" stroke="#333" stroke-width="1.1"/>
<circle cx="69.6" cy="863.5" r="3.9" fill="none" stroke="#333" stroke-width="1.1"/>
<circle cx="215.8" cy="896.6" r="3.9" fill="none" stroke="#333" stroke-width="1.1"/>
<rect x="257.8" y="765.1" width="133.5" height="21.6" fill="#999"/>
<text x="324.5" y="781.2" font-size="14.6" text-anchor="middle" fill="#fff" font-family="Liberation Sans, sans-serif" font-weight="bold">type 1 repertoires</text>
<rect x="163.1" y="855.7" width="131.8" height="21.6" fill="#999"/>
<text x="229.3" y="871.6" font-size="14.6" text-anchor="middle" fill="#fff" font-family="Liberation Sans, sans-serif" font-weight="bold">type 3 repertoires</text>
<text x="197" y="958.8" font-size="14.72" text-anchor="middle" font-family="Liberation Sans, sans-serif" font-weight="bold">Ratio of IFN-<tspan font-family="Liberation Serif, serif" font-style="italic" font-weight="normal" font-size="17">γ</tspan> response</text>
<text x="196.6" y="976.2" font-size="14.72" text-anchor="middle" font-family="Liberation Sans, sans-serif" font-weight="bold">(2nd strongest responding subset / strongest subset)</text>
<text transform="translate(14.0 942.3) rotate(-90)" font-size="14.8" font-family="Liberation Sans, sans-serif" font-weight="bold">Deviation of KIR-KIR co-expression (%)</text>
</svg>
</body></html>
